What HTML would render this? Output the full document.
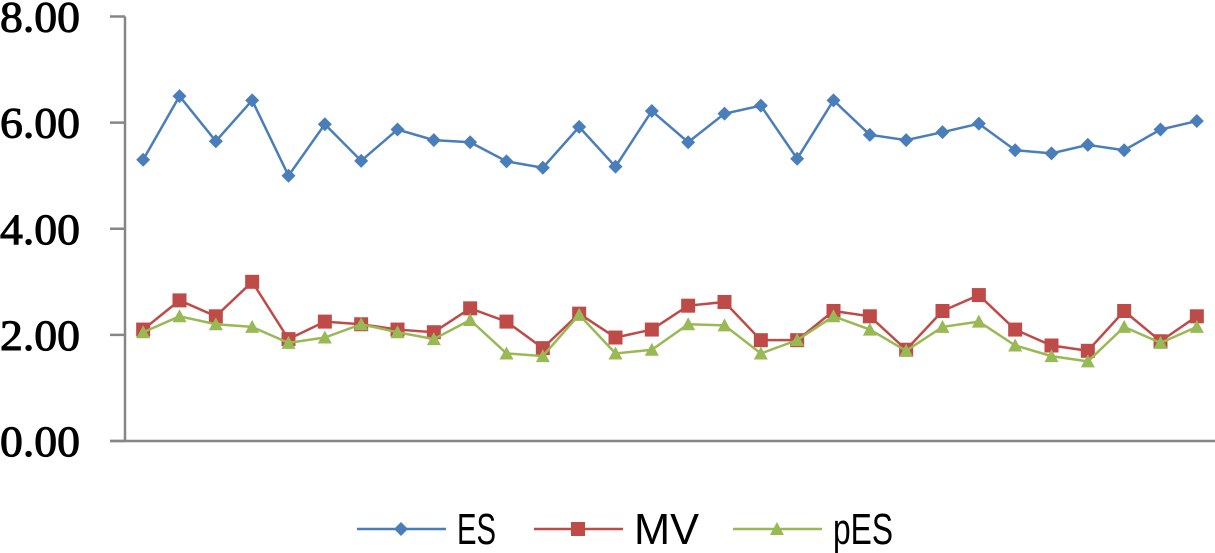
<!DOCTYPE html>
<html><head><meta charset="utf-8"><style>
html,body{margin:0;padding:0;background:#fff;width:1215px;height:553px;overflow:hidden}
svg{display:block}
</style></head><body>
<svg id="chart" width="1215" height="553" xmlns="http://www.w3.org/2000/svg">
<g id="axes"></g>
<g id="series"></g>
<g id="legend"></g>
</svg>
<script>
const yTicks = [0, 2, 4, 6, 8];
const yTickLabels = ["0.00", "2.00", "4.00", "6.00", "8.00"];
const esValues = [5.3,6.5,5.65,6.42,5.0,5.97,5.28,5.87,5.67,5.63,5.27,5.15,5.92,5.17,6.22,5.63,6.17,6.32,5.32,6.42,5.77,5.67,5.82,5.98,5.48,5.42,5.58,5.48,5.87,6.03];
const mvValues = [2.1,2.65,2.35,3.0,1.92,2.25,2.2,2.1,2.05,2.5,2.25,1.75,2.4,1.95,2.1,2.55,2.62,1.9,1.9,2.45,2.35,1.72,2.45,2.75,2.1,1.8,1.7,2.45,1.88,2.35];
const pesValues = [2.05,2.35,2.2,2.15,1.85,1.95,2.2,2.05,1.92,2.28,1.65,1.6,2.38,1.65,1.72,2.2,2.18,1.65,1.9,2.35,2.1,1.7,2.15,2.25,1.8,1.6,1.5,2.15,1.85,2.15];
const seriesNames = ["ES", "MV", "pES"];

const NS = "http://www.w3.org/2000/svg";
const X0 = 125, X1 = 1215, Y0 = 441, Y8 = 16.5;
const n = esValues.length;
function xPos(i){ return X0 + (i + 0.5) * (X1 - X0) / n; }
function yPos(v){ return Y0 - (v / 8) * (Y0 - Y8); }
function mk(tag, attrs, parent){
  const e = document.createElementNS(NS, tag);
  for (const k in attrs) e.setAttribute(k, attrs[k]);
  parent.appendChild(e);
  return e;
}
const axes = document.getElementById('axes');
const yAxis = mk('line', {x1:X0, y1:Y8, x2:X0, y2:Y0, stroke:'#868686', 'stroke-width':2.5}, axes);


const xAxis = mk('line', {x1:X0-15, y1:Y0, x2:X1, y2:Y0, stroke:'#868686', 'stroke-width':2.5}, axes);


yTicks.forEach((t, i) => {
  const y = yPos(t);
  const tk = mk('line', {x1:X0-15, y1:y, x2:X0, y2:y, stroke:'#868686', 'stroke-width':2.5}, axes);
  
  
  const tx = mk('text', {x:0, y:y+15, 'font-family':'Liberation Serif, serif', 'font-size':43, fill:'#000', stroke:'#000', 'stroke-width':1, textLength:80, lengthAdjust:'spacingAndGlyphs'}, axes);
  tx.textContent = yTickLabels[i];
  
  
});

const colors = ['#4a7ebb', '#be4b48', '#98b954'];
const allSeries = [esValues, mvValues, pesValues];
const sg = document.getElementById('series');
function marker(type, x, y, color, parent){
  let e;
  if (type === 0) e = mk('path', {d:`M${x} ${y-7}L${x+7} ${y}L${x} ${y+7}L${x-7} ${y}Z`, fill:color}, parent);
  else if (type === 1) e = mk('rect', {x:x-7, y:y-7, width:14, height:14, fill:color}, parent);
  else e = mk('path', {d:`M${x} ${y-7}L${x+7} ${y+6}L${x-7} ${y+6}Z`, fill:color}, parent);
  return e;
}
allSeries.forEach((vals, s) => {
  const g = mk('g', {}, sg);
  
  
  const pts = vals.map((v, i) => xPos(i) + ',' + yPos(v)).join(' ');
  const pl = mk('polyline', {points:pts, fill:'none', stroke:colors[s], 'stroke-width':2.5}, g);
  
  
  vals.forEach((v, i) => {
    const m = marker(s, xPos(i), yPos(v), colors[s], g);
    
    
  });
});

const lg = document.getElementById('legend');
const legendX = [357, 534, 733];
const legendW = [39, 65, 60];
seriesNames.forEach((name, s) => {
  const g = mk('g', {}, lg);
  
  
  const lx = legendX[s], ly = 529;
  mk('line', {x1:lx, y1:ly, x2:lx+89, y2:ly, stroke:colors[s], 'stroke-width':2.5}, g);
  marker(s, lx+44, ly, colors[s], g);
  const tx = mk('text', {x:lx+100, y:ly+15, 'font-family':'Liberation Sans, sans-serif', 'font-size':44, fill:'#000', textLength: legendW[s], lengthAdjust:'spacingAndGlyphs'}, g);
  tx.textContent = name;
  
  
});
</script>
</body></html>
